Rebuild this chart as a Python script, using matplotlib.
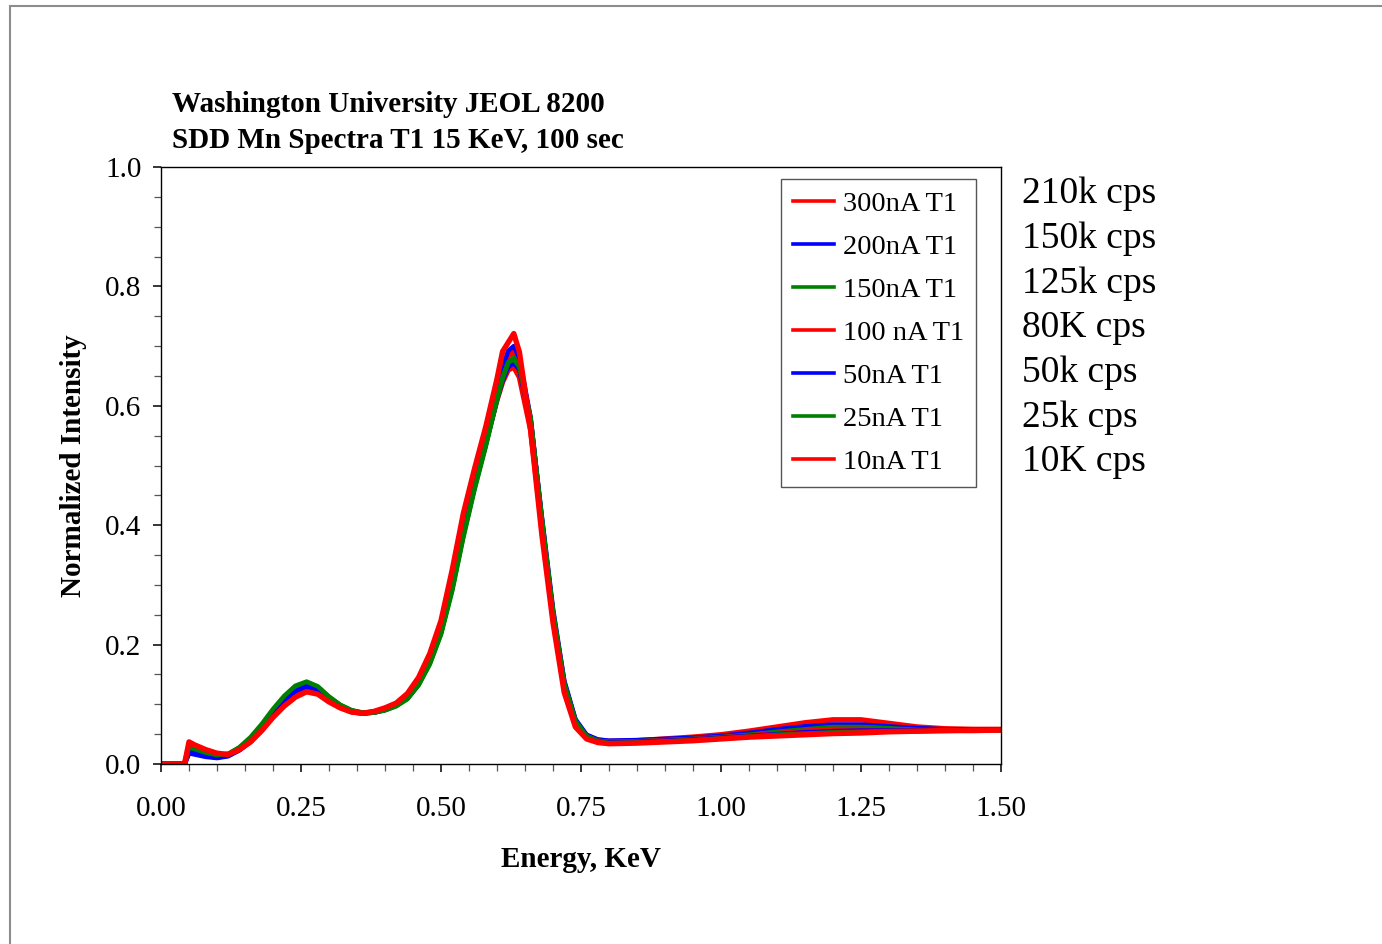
import matplotlib
matplotlib.use("Agg")
import matplotlib.pyplot as plt
from matplotlib.ticker import MultipleLocator, FormatStrFormatter
from matplotlib.patches import Rectangle

plt.rcParams['font.family'] = ['Liberation Serif', 'DejaVu Serif']

# Energy channels (KeV) shared by all spectra
energy = [0.00, 0.042, 0.05, 0.06, 0.08, 0.10, 0.12, 0.14, 0.16, 0.18,
          0.20, 0.22, 0.24, 0.26, 0.28, 0.30, 0.32, 0.34, 0.36, 0.38,
          0.40, 0.42, 0.44, 0.46, 0.48, 0.50, 0.52, 0.54, 0.56, 0.58,
          0.60, 0.61, 0.62, 0.63, 0.64, 0.66, 0.68, 0.70, 0.72, 0.74,
          0.76, 0.78, 0.80, 0.85, 0.90, 0.95, 1.00, 1.05, 1.10, 1.15,
          1.20, 1.25, 1.30, 1.35, 1.40, 1.45, 1.50]

# Normalized intensity of each beam current
i_300nA = [0, 0, 0.020, 0.018, 0.014, 0.012, 0.015, 0.024, 0.038, 0.057,
           0.080, 0.099, 0.115, 0.124, 0.119, 0.106, 0.096, 0.088, 0.085, 0.087,
           0.092, 0.100, 0.113, 0.138, 0.176, 0.228, 0.305, 0.395, 0.470, 0.540,
           0.610, 0.640, 0.660, 0.665, 0.648, 0.560, 0.400, 0.250, 0.135, 0.072,
           0.047, 0.040, 0.038, 0.039, 0.042, 0.045, 0.049, 0.055, 0.062, 0.069,
           0.074, 0.074, 0.068, 0.062, 0.059, 0.058, 0.058]
i_200nA = [0, 0, 0.018, 0.016, 0.012, 0.010, 0.013, 0.023, 0.038, 0.058,
           0.082, 0.102, 0.119, 0.128, 0.122, 0.108, 0.097, 0.089, 0.085, 0.087,
           0.091, 0.099, 0.111, 0.134, 0.170, 0.220, 0.295, 0.385, 0.465, 0.535,
           0.610, 0.642, 0.665, 0.672, 0.660, 0.575, 0.415, 0.260, 0.140, 0.075,
           0.049, 0.041, 0.039, 0.040, 0.042, 0.044, 0.047, 0.052, 0.058, 0.063,
           0.066, 0.066, 0.063, 0.060, 0.058, 0.058, 0.058]
i_150nA = [0, 0, 0.025, 0.022, 0.017, 0.014, 0.016, 0.027, 0.043, 0.064,
           0.088, 0.110, 0.127, 0.135, 0.128, 0.112, 0.099, 0.090, 0.086, 0.086,
           0.090, 0.097, 0.109, 0.132, 0.167, 0.217, 0.290, 0.380, 0.460, 0.532,
           0.610, 0.645, 0.672, 0.678, 0.665, 0.578, 0.410, 0.255, 0.135, 0.072,
           0.047, 0.039, 0.037, 0.038, 0.040, 0.042, 0.045, 0.049, 0.054, 0.058,
           0.062, 0.062, 0.060, 0.057, 0.056, 0.057, 0.057]
i_100nA = [0, 0, 0.027, 0.024, 0.018, 0.015, 0.016, 0.025, 0.039, 0.059,
           0.082, 0.101, 0.116, 0.125, 0.120, 0.107, 0.096, 0.088, 0.085, 0.087,
           0.092, 0.100, 0.114, 0.140, 0.178, 0.230, 0.310, 0.400, 0.478, 0.548,
           0.625, 0.660, 0.683, 0.690, 0.672, 0.572, 0.400, 0.245, 0.128, 0.067,
           0.045, 0.038, 0.036, 0.037, 0.039, 0.041, 0.044, 0.047, 0.051, 0.055,
           0.058, 0.058, 0.057, 0.056, 0.056, 0.057, 0.057]
i_50nA = [0, 0, 0.022, 0.019, 0.014, 0.011, 0.014, 0.024, 0.040, 0.061,
          0.085, 0.105, 0.122, 0.130, 0.124, 0.109, 0.097, 0.089, 0.085, 0.086,
          0.091, 0.098, 0.110, 0.134, 0.172, 0.224, 0.300, 0.390, 0.472, 0.545,
          0.625, 0.665, 0.692, 0.700, 0.680, 0.580, 0.410, 0.252, 0.133, 0.070,
          0.046, 0.038, 0.036, 0.037, 0.039, 0.041, 0.044, 0.047, 0.050, 0.053,
          0.055, 0.056, 0.056, 0.056, 0.057, 0.057, 0.058]
i_25nA = [0, 0, 0.028, 0.025, 0.019, 0.015, 0.017, 0.028, 0.045, 0.067,
          0.092, 0.114, 0.131, 0.138, 0.130, 0.113, 0.099, 0.090, 0.086, 0.086,
          0.090, 0.097, 0.109, 0.133, 0.169, 0.219, 0.293, 0.383, 0.463, 0.535,
          0.612, 0.648, 0.673, 0.680, 0.667, 0.580, 0.412, 0.255, 0.135, 0.071,
          0.046, 0.038, 0.035, 0.036, 0.038, 0.040, 0.043, 0.046, 0.049, 0.051,
          0.053, 0.054, 0.055, 0.055, 0.056, 0.057, 0.057]
i_10nA = [0, 0, 0.037, 0.032, 0.024, 0.018, 0.016, 0.024, 0.037, 0.056,
          0.078, 0.097, 0.112, 0.121, 0.117, 0.104, 0.094, 0.087, 0.085, 0.088,
          0.094, 0.102, 0.118, 0.145, 0.185, 0.240, 0.325, 0.420, 0.495, 0.565,
          0.645, 0.691, 0.706, 0.721, 0.690, 0.560, 0.385, 0.237, 0.120, 0.062,
          0.042, 0.036, 0.034, 0.035, 0.037, 0.039, 0.042, 0.045, 0.047, 0.049,
          0.051, 0.052, 0.054, 0.055, 0.056, 0.056, 0.057]

labels = ["300nA T1", "200nA T1", "150nA T1", "100 nA T1", "50nA T1", "25nA T1", "10nA T1"]
count_rates = ["210k cps", "150k cps", "125k cps", "80K cps", "50k cps", "25k cps", "10K cps"]
series = [i_300nA, i_200nA, i_150nA, i_100nA, i_50nA, i_25nA, i_10nA]
colors = ["#ff0000", "#0000ff", "#008000", "#ff0000", "#0000ff", "#008000", "#ff0000"]
widths = [3.9, 3.3, 3.3, 3.9, 3.3, 3.3, 3.9]

W, H = 1382, 944
fig = plt.figure(figsize=(W / 100, H / 100), dpi=100)
ax = fig.add_axes([161 / W, 1 - 764 / H, (1001 - 161) / W, (764 - 167) / H])

for y, lab, c, lw in zip(series, labels, colors, widths):
    ax.plot(energy, y, color=c, lw=lw, label=lab, solid_joinstyle='round')

ax.set_xlim(0, 1.5)
ax.set_ylim(0, 1.0)
ax.xaxis.set_major_locator(MultipleLocator(0.25))
ax.xaxis.set_minor_locator(MultipleLocator(0.05))
ax.yaxis.set_major_locator(MultipleLocator(0.2))
ax.yaxis.set_minor_locator(MultipleLocator(0.05))
ax.xaxis.set_major_formatter(FormatStrFormatter('%.2f'))
ax.yaxis.set_major_formatter(FormatStrFormatter('%.1f'))
ax.tick_params(which='major', direction='out', length=6, width=1.1, labelsize=21)
ax.tick_params(which='minor', direction='out', length=5, width=0.9, color='#555555')
ax.tick_params(axis='x', which='major', pad=17)
ax.tick_params(axis='y', which='major', pad=8)
for s in ax.spines.values():
    s.set_linewidth(1.0)

ax.set_xlabel("Energy, KeV", fontsize=21, fontweight='bold', labelpad=17)
ax.set_ylabel("Normalized Intensity", fontsize=21, fontweight='bold', labelpad=13)

leg = ax.legend(loc='upper left', bbox_to_anchor=(620 / 840, (764 - 179) / 597),
                borderaxespad=0, fontsize=20.5, handlelength=1.45, handletextpad=0.32,
                labelspacing=0.6, borderpad=0.42, fancybox=False, framealpha=1)
leg.get_frame().set_edgecolor('#555555')
leg.get_frame().set_linewidth(1.0)
for h in leg.get_lines():
    h.set_linewidth(2.6)

for k, txt in enumerate(count_rates):
    fig.text(1022 / W, 1 - (194 + 44.7 * k) / H, txt, fontsize=27, va='center', ha='left')

fig.text(172 / W, 1 - 104 / H, "Washington University JEOL 8200", fontsize=21,
         fontweight='bold', va='center', ha='left')
fig.text(172 / W, 1 - 140 / H, "SDD Mn Spectra T1 15 KeV, 100 sec", fontsize=21,
         fontweight='bold', va='center', ha='left')

# Outer frame around the chart area
fig.patches.append(Rectangle((10 / W, -0.05), 1.1, 1 - 5.5 / H + 0.05,
                             transform=fig.transFigure, fill=False,
                             edgecolor='#8c8c8c', lw=1.5, clip_on=False))

fig.savefig("out.png", dpi=100)
